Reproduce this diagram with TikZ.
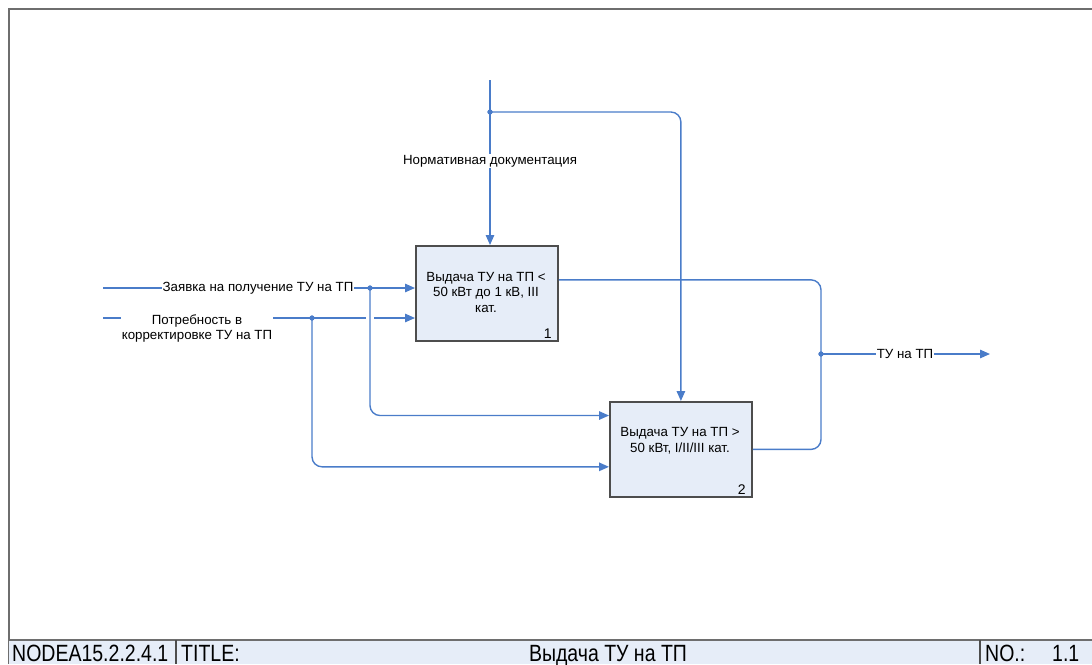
\documentclass[tikz,border=0pt]{standalone}
\usepackage{fontspec}
\setmainfont{Liberation Sans}
\newfontfamily\barfont[FakeStretch=0.83]{Liberation Sans}
\usetikzlibrary{arrows.meta,calc}

\definecolor{flowblue}{HTML}{4A7CC9}
\definecolor{boxfill}{HTML}{E6EDF8}
\definecolor{boxgray}{HTML}{4D4D4D}
\definecolor{framegray}{HTML}{6E6E6E}

\begin{document}
\begin{tikzpicture}[x=1pt,y=-1pt,
  flow/.style={draw=flowblue, line width=1.4pt, rounded corners=10pt},
  arr/.style={flow, -{Triangle[length=10pt,width=8.5pt]}},
  actbox/.style={draw=boxgray, fill=boxfill, line width=1.8pt, anchor=north west,
    minimum width=142pt, minimum height=95pt, inner sep=0pt},
  boxtext/.style={align=center, font=\fontsize{13.3}{15.5}\selectfont, inner sep=0pt},
  boxnum/.style={anchor=south east, font=\fontsize{14}{14}\selectfont, inner xsep=7pt, inner ysep=3pt},
  lbl/.style={fill=white, font=\fontsize{13.3}{15}\selectfont, inner xsep=1pt, inner ysep=1pt, align=center},
  junction/.style={circle, fill=flowblue, inner sep=0pt, minimum size=5pt},
  bartext/.style={font=\barfont\fontsize{23.5}{23.5}\selectfont, inner sep=0pt, anchor=base west}]

\useasboundingbox (0,0) rectangle (1092,664);

% sheet frame
\draw[framegray, line width=2pt] (9,664) -- (9,9) -- (1093,9);

% title bar
\fill[boxfill] (9,640) rectangle (1092,664);
\draw[framegray, line width=1.5pt] (9,640) -- (1092,640);
\draw[boxgray, line width=1.2pt] (176,640) -- (176,664) (980,640) -- (980,664);
\node[bartext] (nodeid) at (12,661) {NODEA15.2.2.4.1};
\node[bartext] (titlekey) at (181,661) {TITLE:};
\node[bartext, anchor=base] (titleval) at (608,661) {Выдача ТУ на ТП};
\node[bartext] (nokey) at (985,661) {NO.:};
\node[bartext] (noval) at (1052,661) {1.1};

% activity boxes
\node[actbox] (b1) at (415,245) {};
\node[boxtext] (t1) at (486,292) {Выдача ТУ на ТП <\\50 кВт до 1 кВ, III\\кат.};
\node[boxnum] (n1) at (b1.south east) {1};

\node[actbox] (b2) at (609,401) {};
\node[boxtext] (t2) at (680,441) {Выдача ТУ на ТП >\\50 кВт, I/II/III кат.};
\node[boxnum] (n2) at (b2.south east) {2};

% free ends of the boundary arrows
\coordinate (ctlsrc) at (490,80);
\coordinate (in1src) at (103,288);
\coordinate (in2src) at (103,318);
\coordinate (outdst) at (990,354);

% junctions
\node[junction] (j1) at (490,112) {};
\node[junction] (j2) at (370,288) {};
\node[junction] (j3) at (312,318) {};
\node[junction] (j4) at (821,354) {};

% control: regulations
\draw[arr] (ctlsrc) -- (ctlsrc |- b1.north);
\draw[arr] (j1.center) -| (b2.north);
\node[lbl] (ctllbl) at (490,161) {Нормативная документация};

% input: correction request (with a gap where the other input crosses)
\draw[arr] (in2src) -- (b1.west |- in2src);
\draw[white, line width=4pt] (366,318) -- (374,318);
\draw[arr] (j3.center) |- ($(b2.north west)!0.68!(b2.south west)$);
\node[lbl] (in2lbl) at (197,328) {Потребность в\\корректировке ТУ на ТП};

% input: application
\draw[arr] (in1src) -- (b1.west |- in1src);
\draw[arr] (j2.center) |- ($(b2.north west)!0.15!(b2.south west)$);
\node[lbl] (in1lbl) at (258,288) {Заявка на получение ТУ на ТП};

% outputs
\draw[flow] ($(b1.north east)!0.36!(b1.south east)$) -| (j4.center);
\draw[flow] (b2.east) -| (j4.center);
\draw[arr] (j4.center) -- (outdst);
\node[lbl] (outlbl) at (905,354) {ТУ на ТП};

% junction dots on top
\foreach \j in {j1,j2,j3,j4} \fill[flowblue] (\j) circle (2.6pt);

\end{tikzpicture}
\end{document}
